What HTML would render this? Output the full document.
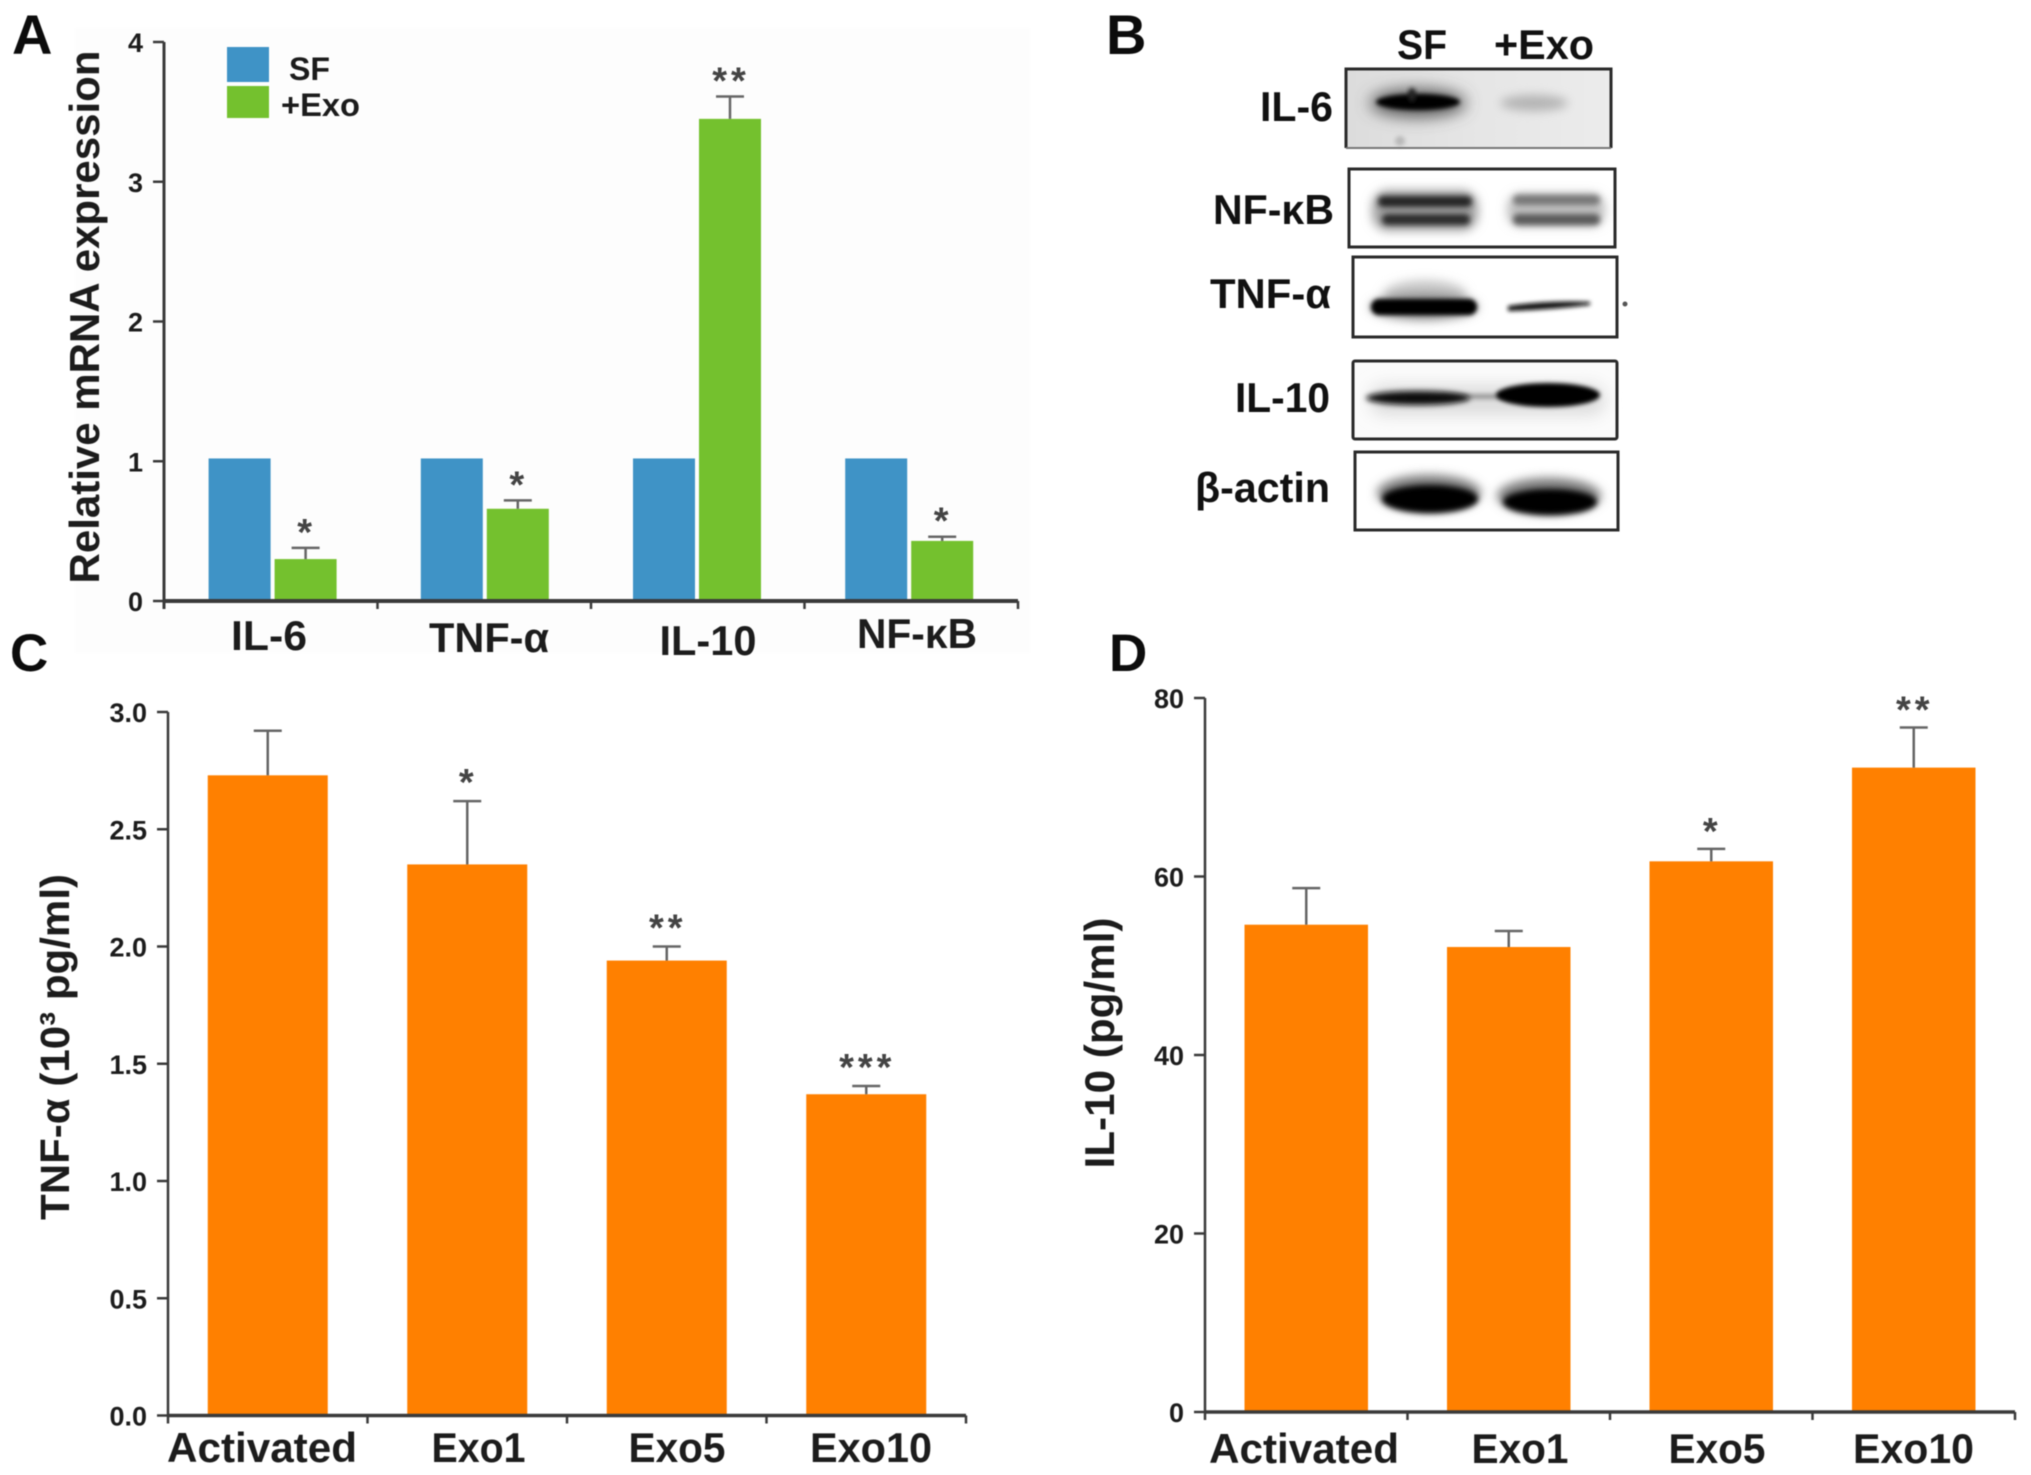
<!DOCTYPE html>
<html lang="en">
<head>
<meta charset="utf-8">
<title>Exosome effects on cytokine expression</title>
<style>
html,body{margin:0;padding:0;background:#fff;width:2031px;height:1475px;overflow:hidden}
svg{display:block;filter:blur(0.6px)}
text{font-family:"Liberation Sans",Arial,sans-serif;font-weight:bold;fill:#1c1c1c}
.tick{font-size:27px;text-anchor:end}
.cat{font-size:42px;text-anchor:middle}
.panel{font-size:56px;fill:#0c0c0c}
.blot-label{font-size:42px;fill:#111}
.star{font-size:38px;text-anchor:middle;fill:#444;letter-spacing:4px}
</style>
</head>
<body>
<svg id="fig" xmlns="http://www.w3.org/2000/svg" width="2031" height="1475" viewBox="0 0 2031 1475">
<defs>
<filter id="b2" x="-30%" y="-120%" width="160%" height="340%"><feGaussianBlur stdDeviation="2"/></filter>
<filter id="b3" x="-30%" y="-120%" width="160%" height="340%"><feGaussianBlur stdDeviation="3"/></filter>
<filter id="b5" x="-30%" y="-150%" width="160%" height="400%"><feGaussianBlur stdDeviation="5"/></filter>
<filter id="b8" x="-40%" y="-200%" width="180%" height="500%"><feGaussianBlur stdDeviation="8"/></filter>
<linearGradient id="il6bg" x1="0" x2="1" y1="0" y2="0"><stop offset="0" stop-color="#dcdcdc"/><stop offset=".5" stop-color="#e6e6e6"/><stop offset="1" stop-color="#ececec"/></linearGradient>
</defs>
<rect x="0" y="0" width="2031" height="1475" fill="#ffffff"/>
<rect x="75" y="28" width="955" height="625" fill="#fdfdfd"/>

<text class="panel" x="12" y="54">A</text>
<text class="panel" x="1106" y="54">B</text>
<text class="panel" x="10" y="671" style="font-size:53px">C</text>
<text class="panel" x="1109" y="671" style="font-size:53px">D</text>

<g id="chartA"></g>
<g id="chartC"></g>
<g id="chartD"></g>

<g>
<text transform="translate(99,317) rotate(-90)" text-anchor="middle" style="font-size:42px" textLength="533" lengthAdjust="spacingAndGlyphs">Relative mRNA expression</text>
<text class="cat" x="269" y="650" textLength="76" lengthAdjust="spacingAndGlyphs">IL-6</text>
<text class="cat" x="489" y="652" textLength="120" lengthAdjust="spacingAndGlyphs">TNF-α</text>
<text class="cat" x="708" y="655" textLength="97" lengthAdjust="spacingAndGlyphs">IL-10</text>
<text class="cat" x="917" y="648" textLength="120" lengthAdjust="spacingAndGlyphs">NF-κB</text>
<g>
<rect x="227" y="47" width="42" height="35" fill="#3f93c6"/>
<rect x="227" y="86" width="42" height="32" fill="#74c12e"/>
<text x="289" y="80" style="font-size:32px" textLength="41" lengthAdjust="spacingAndGlyphs">SF</text>
<text x="281" y="116" style="font-size:32px" textLength="79" lengthAdjust="spacingAndGlyphs">+Exo</text>
</g>
</g>

<g>
<text transform="translate(69,1047) rotate(-90)" text-anchor="middle" style="font-size:41px" textLength="346" lengthAdjust="spacingAndGlyphs">TNF-α (10³ pg/ml)</text>
<text class="cat" x="262" y="1462" textLength="190" lengthAdjust="spacingAndGlyphs">Activated</text>
<text class="cat" x="478.5" y="1462" textLength="94" lengthAdjust="spacingAndGlyphs">Exo1</text>
<text class="cat" x="677" y="1462" textLength="97" lengthAdjust="spacingAndGlyphs">Exo5</text>
<text class="cat" x="871" y="1462" textLength="122" lengthAdjust="spacingAndGlyphs">Exo10</text>
</g>

<g>
<text transform="translate(1114,1043) rotate(-90)" text-anchor="middle" style="font-size:42px" textLength="251" lengthAdjust="spacingAndGlyphs">IL-10 (pg/ml)</text>
<text class="cat" x="1304" y="1463" textLength="190" lengthAdjust="spacingAndGlyphs">Activated</text>
<text class="cat" x="1520" y="1463" textLength="97" lengthAdjust="spacingAndGlyphs">Exo1</text>
<text class="cat" x="1717" y="1463" textLength="97" lengthAdjust="spacingAndGlyphs">Exo5</text>
<text class="cat" x="1913.5" y="1463" textLength="121" lengthAdjust="spacingAndGlyphs">Exo10</text>
</g>

<g>
<text class="blot-label" x="1397" y="59" textLength="50" lengthAdjust="spacingAndGlyphs">SF</text>
<text class="blot-label" x="1494" y="59" textLength="100" lengthAdjust="spacingAndGlyphs">+Exo</text>

<text class="blot-label" x="1260" y="121" textLength="73" lengthAdjust="spacingAndGlyphs">IL-6</text>
<text class="blot-label" x="1213" y="224" textLength="121" lengthAdjust="spacingAndGlyphs">NF-κB</text>
<text class="blot-label" x="1210" y="308" textLength="121" lengthAdjust="spacingAndGlyphs">TNF-α</text>
<text class="blot-label" x="1235" y="412" textLength="95" lengthAdjust="spacingAndGlyphs">IL-10</text>
<text class="blot-label" x="1195" y="502" textLength="135" lengthAdjust="spacingAndGlyphs">β-actin</text>

<g>
<rect x="1346" y="69" width="265" height="79" fill="url(#il6bg)"/>
<ellipse cx="1418" cy="103" rx="48" ry="14" fill="#555" filter="url(#b8)"/>
<ellipse cx="1418" cy="102" rx="42" ry="8" fill="#000" filter="url(#b2)"/>
<ellipse cx="1412" cy="95" rx="4" ry="7" fill="#222" filter="url(#b2)"/>
<ellipse cx="1534" cy="103" rx="34" ry="8" fill="#b4b4b4" filter="url(#b5)"/>
<ellipse cx="1400" cy="141" rx="5" ry="5" fill="#b8b8b8" filter="url(#b2)"/>
<path d="M1346 148 V69 H1611 V148" fill="none" stroke="#2a2a2a" stroke-width="3"/>
<line x1="1346" x2="1611" y1="148" y2="148" stroke="#777" stroke-width="2"/>
</g>

<g>
<rect x="1349" y="169" width="266" height="78" fill="#fff"/>
<rect x="1372" y="190" width="106" height="41" rx="16" fill="#a0a0a0" filter="url(#b5)"/>
<rect x="1378" y="196" width="94" height="11" rx="5" fill="#222" filter="url(#b3)"/>
<rect x="1382" y="214" width="88" height="11" rx="5" fill="#2a2a2a" filter="url(#b3)"/>
<rect x="1507" y="193" width="98" height="34" rx="14" fill="#c0c0c0" filter="url(#b5)"/>
<rect x="1513" y="195" width="87" height="10" rx="5" fill="#777" filter="url(#b3)"/>
<rect x="1513" y="214" width="87" height="11" rx="5" fill="#5a5a5a" filter="url(#b3)"/>
<rect x="1349" y="169" width="266" height="78" fill="none" stroke="#2a2a2a" stroke-width="3"/>
</g>

<g>
<rect x="1353" y="257" width="264" height="80" fill="#fff"/>
<ellipse cx="1425" cy="295" rx="42" ry="15" fill="#c8c8c8" filter="url(#b5)"/>
<ellipse cx="1424" cy="307" rx="54" ry="13" fill="#888" filter="url(#b5)"/>
<rect x="1371" y="299" width="106" height="16" rx="8" fill="#000" filter="url(#b2)"/>
<path d="M1508 306 Q1548 300 1590 302 L1590 305 Q1548 310 1508 311 Z" fill="#111" filter="url(#b2)"/>
<rect x="1353" y="257" width="264" height="80" fill="none" stroke="#2a2a2a" stroke-width="3"/>
<ellipse cx="1625" cy="304" rx="2.5" ry="2.5" fill="#555"/>
</g>

<g>
<rect x="1353" y="361" width="264" height="78" fill="#fbfbfb"/>
<rect x="1370" y="385" width="235" height="30" rx="14" fill="#dcdcdc" filter="url(#b8)"/>
<rect x="1440" y="394" width="70" height="5" fill="#999" filter="url(#b2)"/>
<ellipse cx="1418" cy="398" rx="52" ry="7" fill="#111" filter="url(#b3)"/>
<ellipse cx="1548" cy="395" rx="52" ry="12" fill="#000" filter="url(#b2)"/>
<rect x="1353" y="361" width="264" height="78" rx="2" fill="none" stroke="#2a2a2a" stroke-width="3"/>
</g>

<g>
<rect x="1355" y="452" width="263" height="78" fill="#fff"/>
<ellipse cx="1429" cy="493" rx="52" ry="18" fill="#777" filter="url(#b5)"/>
<ellipse cx="1430" cy="499" rx="48" ry="14" fill="#000" filter="url(#b3)"/>
<ellipse cx="1549" cy="496" rx="52" ry="18" fill="#777" filter="url(#b5)"/>
<ellipse cx="1550" cy="502" rx="47" ry="13" fill="#000" filter="url(#b3)"/>
<rect x="1355" y="452" width="263" height="78" fill="none" stroke="#2a2a2a" stroke-width="3"/>
</g>
</g>
</svg>

<script>
// Chart A: relative mRNA expression
const aCategories = ['IL-6', 'TNF-alpha', 'IL-10', 'NF-kB'];
const aSfValues = [1.02, 1.02, 1.02, 1.02];
const aExoValues = [0.30, 0.66, 3.45, 0.43];
const aExoErrorTops = [0.38, 0.72, 3.61, 0.46];
const aStars = ['*', '*', '**', '*'];
const aTickLabels = ['0', '1', '2', '3', '4'];

// Chart C: TNF-alpha
const cCategories = ['Activated', 'Exo1', 'Exo5', 'Exo10'];
const cValues = [2.73, 2.35, 1.94, 1.37];
const cErrorTops = [2.92, 2.62, 2.00, 1.405];
const cStars = ['', '*', '**', '***'];
const cTickLabels = ['0.0', '0.5', '1.0', '1.5', '2.0', '2.5', '3.0'];

// Chart D: IL-10
const dCategories = ['Activated', 'Exo1', 'Exo5', 'Exo10'];
const dValues = [54.6, 52.1, 61.7, 72.2];
const dErrorTops = [58.7, 53.9, 63.1, 76.7];
const dStars = ['', '', '*', '**'];
const dTickLabels = ['0', '20', '40', '60', '80'];

const NS = 'http://www.w3.org/2000/svg';
function svgEl(tag, attrs, parent) {
  const el = document.createElementNS(NS, tag);
  for (const k in attrs) el.setAttribute(k, attrs[k]);
  parent.appendChild(el);
  return el;
}
function linearY(domainMax, y0, yTop) {
  return function (v) { return y0 - (v / domainMax) * (y0 - yTop); };
}
function drawAxes(parent, prefix, cfg, labels, yScale) {
  const yAxis = svgEl('line', { x1: cfg.x0, x2: cfg.x0, y1: cfg.yTop, y2: cfg.y0 + 8, stroke: '#3a3a3a', 'stroke-width': cfg.yw }, parent);
  
  
  const xAxis = svgEl('line', { x1: cfg.x0 - 1, x2: cfg.x1, y1: cfg.y0, y2: cfg.y0, stroke: '#3a3a3a', 'stroke-width': cfg.xw }, parent);
  
  
  labels.forEach(function (lab) {
    const y = yScale(parseFloat(lab));
    const t = svgEl('line', { x1: cfg.x0 - 11, x2: cfg.x0, y1: y, y2: y, stroke: '#3a3a3a', 'stroke-width': 2.5 }, parent);
    
    
    const txt = svgEl('text', { x: cfg.x0 - 21, y: y + 10, 'class': 'tick' }, parent);
    
    
    txt.textContent = lab;
  });
  for (let i = 1; i <= cfg.n; i++) {
    const x = cfg.x0 + (cfg.x1 - cfg.x0) * i / cfg.n;
    const t = svgEl('line', { x1: x, x2: x, y1: cfg.y0, y2: cfg.y0 + 8, stroke: '#3a3a3a', 'stroke-width': 2.5 }, parent);
    
    
  }
}
function drawErrorAndStar(parent, prefix, cx, topV, errV, star, yScale, lift) {
  const yErr = yScale(errV), yTop = yScale(topV);
  const stem = svgEl('line', { x1: cx, x2: cx, y1: yTop, y2: yErr, stroke: '#666', 'stroke-width': 2.5 }, parent);
  
  
  const cap = svgEl('line', { x1: cx - 14, x2: cx + 14, y1: yErr, y2: yErr, stroke: '#666', 'stroke-width': 2.5 }, parent);
  
  
  if (star) {
    const s = svgEl('text', { x: cx + 1, y: yErr - lift, 'class': 'star' }, parent);
    
    
    s.textContent = star;
  }
}
function drawSingleSeries(parent, prefix, cfg, cats, vals, errs, stars, labels) {
  const yScale = linearY(cfg.max, cfg.y0, cfg.yTop);
  const step = (cfg.x1 - cfg.x0) / cats.length;
  cats.forEach(function (c, i) {
    const cx = cfg.x0 + step * (i + 0.5);
    const y = yScale(vals[i]);
    const bar = svgEl('rect', { x: cx - cfg.bw / 2, y: y, width: cfg.bw, height: cfg.y0 - y, fill: '#ff8000' }, parent);
    
    
    drawErrorAndStar(parent, prefix + '-' + c.toLowerCase(), cx, vals[i], errs[i], stars[i], yScale, cfg.lift);
  });
  drawAxes(parent, prefix, cfg, labels, yScale);
}

// Panel A (grouped)
(function () {
  const g = document.getElementById('chartA');
  const cfg = { x0: 164, x1: 1018, y0: 601, yTop: 42, max: 4, n: 4, yw: 3, xw: 4 };
  const yScale = linearY(cfg.max, cfg.y0, cfg.yTop);
  const bandStart = 166.5, bandStep = 212.2, bw = 62, gap = 2;
  aCategories.forEach(function (c, i) {
    const cx = bandStart + bandStep * (i + 0.5);
    const name = c.toLowerCase();
    const ySf = yScale(aSfValues[i]);
    const sf = svgEl('rect', { x: cx - gap - bw, y: ySf, width: bw, height: cfg.y0 - ySf, fill: '#3f93c6' }, g);
    
    
    const yEx = yScale(aExoValues[i]);
    const ex = svgEl('rect', { x: cx + gap, y: yEx, width: bw, height: cfg.y0 - yEx, fill: '#74c12e' }, g);
    
    
    drawErrorAndStar(g, 'exo-' + name, cx + gap + bw / 2, aExoValues[i], aExoErrorTops[i], aStars[i], yScale, 3);
  });
  drawAxes(g, 'chart-a', cfg, aTickLabels, yScale);
})();

drawSingleSeries(document.getElementById('chartC'), 'chart-c',
  { x0: 168, x1: 966, y0: 1415.5, yTop: 712, max: 3, n: 4, yw: 2.5, xw: 3.5, bw: 120, lift: 6 },
  cCategories, cValues, cErrorTops, cStars, cTickLabels);

drawSingleSeries(document.getElementById('chartD'), 'chart-d',
  { x0: 1205, x1: 2015, y0: 1412, yTop: 698, max: 80, n: 4, yw: 2.5, xw: 3.5, bw: 123.5, lift: 5 },
  dCategories, dValues, dErrorTops, dStars, dTickLabels);
</script>
</body>
</html>
